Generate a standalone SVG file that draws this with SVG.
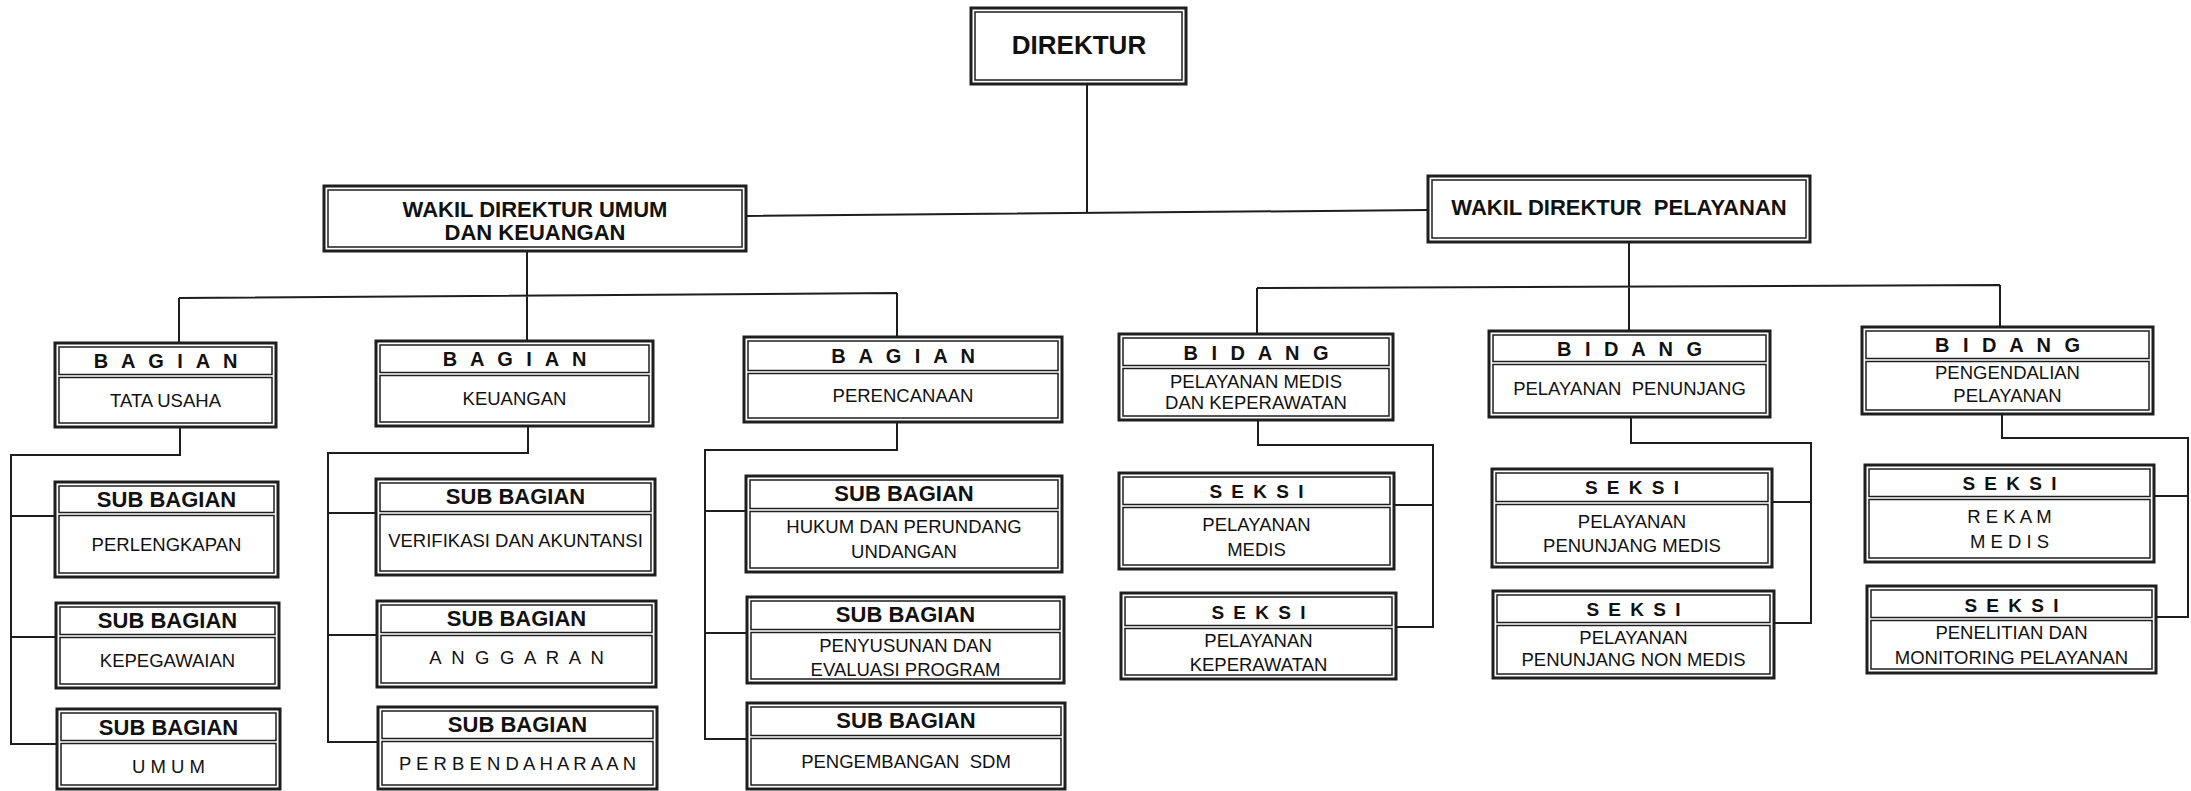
<svg xmlns="http://www.w3.org/2000/svg" width="2191" height="791" viewBox="0 0 2191 791">
<style>
.bg{fill:#fff}
.c{fill:none;stroke:#1e1e1e;stroke-width:2}
.o{fill:#fff;stroke:#1e1e1e;stroke-width:3}
.i{fill:none;stroke:#1e1e1e;stroke-width:1.5}
text{font-family:"Liberation Sans",Arial,sans-serif;fill:#111;text-anchor:middle}
.t{font-size:26px;font-weight:bold}
.w{font-size:22px;font-weight:bold}
.hb{font-size:20px;font-weight:bold;letter-spacing:4px}
.hs{font-size:19px;font-weight:bold;letter-spacing:2px}
.hg{font-size:22px;font-weight:bold}
.b{font-size:18.5px}
</style>
<rect class="bg" x="0" y="0" width="2191" height="791"/>
<g id="connectors">
<path class="c" d="M1087,84 V213 M746,216 L1428,210"/>
<path class="c" d="M527,251 V341 M179,298 L897,293 M179,298 V343 M897,293 V337"/>
<path class="c" d="M1629,242 V331 M1257,288 L2000,285 M1257,288 V334 M2000,285 V327"/>
<path class="c" d="M180,427 V455 H11 V744 H57 M11,516 H55 M11,637 H56"/>
<path class="c" d="M528,426 V453 H328 V742 H378 M328,513 H376 M328,635 H377"/>
<path class="c" d="M897,422 V450 H705 V739 H747 M705,511 H746 M705,633 H747"/>
<path class="c" d="M1258,420 V445 H1433 V627 H1396 M1433,505 H1394"/>
<path class="c" d="M1631,417 V443 H1811 V623 H1774 M1811,502 H1772"/>
<path class="c" d="M2002,414 V438 H2188 V617 H2156 M2188,496 H2154"/>
</g>
<g id="direktur">
<rect class="o" x="971" y="8" width="215" height="76"/>
<rect class="i" x="975" y="12" width="207" height="68"/>
<text class="t" x="1079" y="54">DIREKTUR</text>
</g>
<g id="wadir-umum">
<rect class="o" x="324" y="186" width="422" height="65"/>
<rect class="i" x="328" y="190" width="414" height="57"/>
<text class="w" x="535" y="217">WAKIL DIREKTUR UMUM</text>
<text class="w" x="535" y="240">DAN KEUANGAN</text>
</g>
<g id="wadir-pelayanan">
<rect class="o" x="1428" y="176" width="382" height="66"/>
<rect class="i" x="1432" y="180" width="374" height="58"/>
<text class="w" x="1619" y="215" xml:space="preserve">WAKIL DIREKTUR  PELAYANAN</text>
</g>
<g id="bagian-tata-usaha">
<rect class="o" x="55" y="343" width="221" height="84"/>
<rect class="i" x="59" y="347" width="213" height="27.5"/>
<rect class="i" x="59" y="377.5" width="213" height="45.5"/>
<text class="hb" x="167.5" y="368">B A G I A N</text>
<text class="b" x="165.5" y="407">TATA USAHA</text>
</g>
<g id="bagian-keuangan">
<rect class="o" x="376" y="341" width="277" height="85"/>
<rect class="i" x="380" y="345" width="269" height="27.5"/>
<rect class="i" x="380" y="375.5" width="269" height="46.5"/>
<text class="hb" x="516.5" y="366">B A G I A N</text>
<text class="b" x="514.5" y="405">KEUANGAN</text>
</g>
<g id="bagian-perencanaan">
<rect class="o" x="744" y="337" width="318" height="85"/>
<rect class="i" x="748" y="341" width="310" height="29.5"/>
<rect class="i" x="748" y="373.5" width="310" height="44.5"/>
<text class="hb" x="905" y="363">B A G I A N</text>
<text class="b" x="903" y="402">PERENCANAAN</text>
</g>
<g id="sub-perlengkapan">
<rect class="o" x="55" y="482" width="223" height="95"/>
<rect class="i" x="59" y="486" width="215" height="26.5"/>
<rect class="i" x="59" y="515.5" width="215" height="57.5"/>
<text class="hg" x="166.5" y="507">SUB BAGIAN</text>
<text class="b" x="166.5" y="551">PERLENGKAPAN</text>
</g>
<g id="sub-kepegawaian">
<rect class="o" x="56" y="603" width="223" height="85"/>
<rect class="i" x="60" y="607" width="215" height="27.5"/>
<rect class="i" x="60" y="637.5" width="215" height="46.5"/>
<text class="hg" x="167.5" y="628">SUB BAGIAN</text>
<text class="b" x="167.5" y="667">KEPEGAWAIAN</text>
</g>
<g id="sub-umum">
<rect class="o" x="57" y="709" width="223" height="80"/>
<rect class="i" x="61" y="713" width="215" height="27.5"/>
<rect class="i" x="61" y="743.5" width="215" height="41.5"/>
<text class="hg" x="168.5" y="735">SUB BAGIAN</text>
<text class="b" x="168.5" y="773">U M U M</text>
</g>
<g id="sub-verifikasi">
<rect class="o" x="376" y="479" width="279" height="96"/>
<rect class="i" x="380" y="483" width="271" height="28.5"/>
<rect class="i" x="380" y="514.5" width="271" height="56.5"/>
<text class="hg" x="515.5" y="504">SUB BAGIAN</text>
<text class="b" x="515.5" y="547">VERIFIKASI DAN AKUNTANSI</text>
</g>
<g id="sub-anggaran">
<rect class="o" x="377" y="601" width="279" height="86"/>
<rect class="i" x="381" y="605" width="271" height="27.5"/>
<rect class="i" x="381" y="635.5" width="271" height="47.5"/>
<text class="hg" x="516.5" y="626">SUB BAGIAN</text>
<text class="b" x="518" y="664" style="letter-spacing:2.7px">A N G G A R A N</text>
</g>
<g id="sub-perbendaharaan">
<rect class="o" x="378" y="707" width="279" height="82"/>
<rect class="i" x="382" y="711" width="271" height="27.5"/>
<rect class="i" x="382" y="741.5" width="271" height="43.5"/>
<text class="hg" x="517.5" y="732">SUB BAGIAN</text>
<text class="b" x="517.5" y="770">P E R B E N D A H A R A A N</text>
</g>
<g id="sub-hukum">
<rect class="o" x="746" y="476" width="316" height="96"/>
<rect class="i" x="750" y="480" width="308" height="28.5"/>
<rect class="i" x="750" y="511.5" width="308" height="56.5"/>
<text class="hg" x="904" y="501">SUB BAGIAN</text>
<text class="b" x="904" y="533">HUKUM DAN PERUNDANG</text>
<text class="b" x="904" y="558">UNDANGAN</text>
</g>
<g id="sub-penyusunan">
<rect class="o" x="747" y="597" width="317" height="86"/>
<rect class="i" x="751" y="601" width="309" height="28.5"/>
<rect class="i" x="751" y="632.5" width="309" height="46.5"/>
<text class="hg" x="905.5" y="622">SUB BAGIAN</text>
<text class="b" x="905.5" y="652">PENYUSUNAN DAN</text>
<text class="b" x="905.5" y="676">EVALUASI PROGRAM</text>
</g>
<g id="sub-pengembangan">
<rect class="o" x="747" y="703" width="318" height="86"/>
<rect class="i" x="751" y="707" width="310" height="28.5"/>
<rect class="i" x="751" y="738.5" width="310" height="46.5"/>
<text class="hg" x="906" y="728">SUB BAGIAN</text>
<text class="b" x="906" y="768" xml:space="preserve">PENGEMBANGAN  SDM</text>
</g>
<g id="bidang-medis">
<rect class="o" x="1119" y="334" width="274" height="86"/>
<rect class="i" x="1123" y="338" width="266" height="27.5"/>
<rect class="i" x="1123" y="368.5" width="266" height="47.5"/>
<text class="hb" x="1258" y="360">B I D A N G</text>
<text class="b" x="1256" y="388">PELAYANAN MEDIS</text>
<text class="b" x="1256" y="409">DAN KEPERAWATAN</text>
</g>
<g id="bidang-penunjang">
<rect class="o" x="1489" y="331" width="281" height="86"/>
<rect class="i" x="1493" y="335" width="273" height="26.5"/>
<rect class="i" x="1493" y="364.5" width="273" height="48.5"/>
<text class="hb" x="1631.5" y="356">B I D A N G</text>
<text class="b" x="1629.5" y="395" xml:space="preserve">PELAYANAN  PENUNJANG</text>
</g>
<g id="bidang-pengendalian">
<rect class="o" x="1862" y="327" width="291" height="87"/>
<rect class="i" x="1866" y="331" width="283" height="27.5"/>
<rect class="i" x="1866" y="361.5" width="283" height="48.5"/>
<text class="hb" x="2009.5" y="352">B I D A N G</text>
<text class="b" x="2007.5" y="379">PENGENDALIAN</text>
<text class="b" x="2007.5" y="402">PELAYANAN</text>
</g>
<g id="seksi-medis">
<rect class="o" x="1119" y="473" width="275" height="96"/>
<rect class="i" x="1123" y="477" width="267" height="27.5"/>
<rect class="i" x="1123" y="507.5" width="267" height="57.5"/>
<text class="hs" x="1257.5" y="498">S E K S I</text>
<text class="b" x="1256.5" y="531">PELAYANAN</text>
<text class="b" x="1256.5" y="556">MEDIS</text>
</g>
<g id="seksi-keperawatan">
<rect class="o" x="1121" y="593" width="275" height="86"/>
<rect class="i" x="1125" y="597" width="267" height="28.5"/>
<rect class="i" x="1125" y="628.5" width="267" height="46.5"/>
<text class="hs" x="1259.5" y="619">S E K S I</text>
<text class="b" x="1258.5" y="647">PELAYANAN</text>
<text class="b" x="1258.5" y="671">KEPERAWATAN</text>
</g>
<g id="seksi-penunjang-medis">
<rect class="o" x="1492" y="469" width="280" height="98"/>
<rect class="i" x="1496" y="473" width="272" height="28.5"/>
<rect class="i" x="1496" y="504.5" width="272" height="58.5"/>
<text class="hs" x="1633" y="494">S E K S I</text>
<text class="b" x="1632" y="528">PELAYANAN</text>
<text class="b" x="1632" y="552">PENUNJANG MEDIS</text>
</g>
<g id="seksi-penunjang-non-medis">
<rect class="o" x="1493" y="591" width="281" height="87"/>
<rect class="i" x="1497" y="595" width="273" height="27.5"/>
<rect class="i" x="1497" y="625.5" width="273" height="48.5"/>
<text class="hs" x="1634.5" y="616">S E K S I</text>
<text class="b" x="1633.5" y="644">PELAYANAN</text>
<text class="b" x="1633.5" y="666">PENUNJANG NON MEDIS</text>
</g>
<g id="seksi-rekam-medis">
<rect class="o" x="1865" y="465" width="289" height="97"/>
<rect class="i" x="1869" y="469" width="281" height="27.5"/>
<rect class="i" x="1869" y="499.5" width="281" height="58.5"/>
<text class="hs" x="2010.5" y="490">S E K S I</text>
<text class="b" x="2009.5" y="523">R E K A M</text>
<text class="b" x="2009.5" y="548">M E D I S</text>
</g>
<g id="seksi-penelitian">
<rect class="o" x="1867" y="586" width="289" height="87"/>
<rect class="i" x="1871" y="590" width="281" height="27.5"/>
<rect class="i" x="1871" y="620.5" width="281" height="48.5"/>
<text class="hs" x="2012.5" y="612">S E K S I</text>
<text class="b" x="2011.5" y="639">PENELITIAN DAN</text>
<text class="b" x="2011.5" y="664">MONITORING PELAYANAN</text>
</g>
</svg>
